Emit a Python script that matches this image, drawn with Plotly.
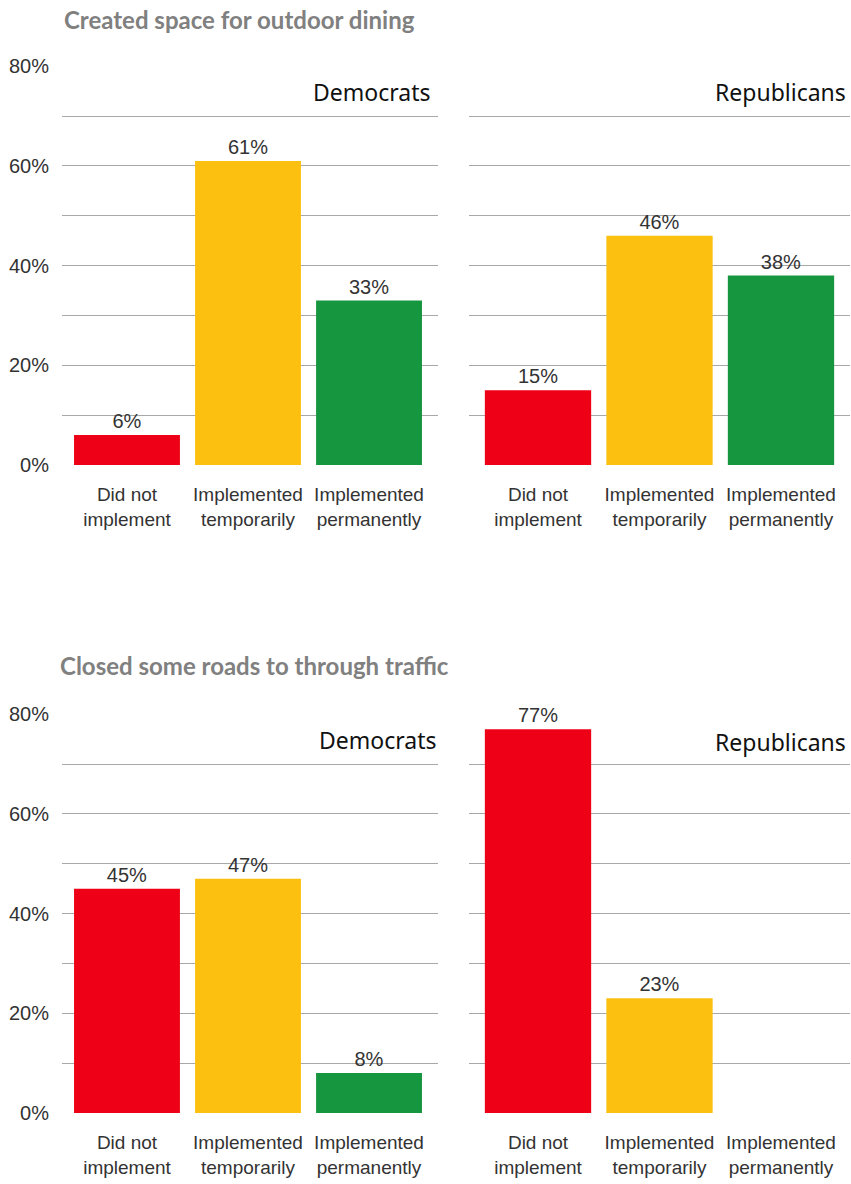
import plotly.graph_objects as go

categories = ["Did not<br>implement", "Implemented<br>temporarily", "Implemented<br>permanently"]
colors = ["#EE0016", "#FBC010", "#16963E"]

dining_dem = [6, 61, 33]
dining_rep = [15, 46, 38]
roads_dem = [45, 47, 8]
roads_rep = [77, 23, 0]

panel_titles = ["Created space for outdoor dining", "Closed some roads to through traffic"]
party_labels = ["Democrats", "Republicans"]

tick_vals = [0, 10, 20, 30, 40, 50, 60, 70, 80]
tick_text = ["0%", "", "20%", "", "40%", "", "60%", "", "80%"]

W, H = 851, 1184
ml = 62
mt = 66
mr = W - 850
mb = H - 1113
pw = W - ml - mr
ph = H - mt - mb

def fx(px):
    return (px - ml) / pw

def fy(py):
    return (H - mb - py) / ph

NARROW = "Liberation Sans Narrow, Arial Narrow, Liberation Sans, Arial, sans-serif"

fig = go.Figure()
domains_x = [[0, fx(438)], [fx(469), 1]]
domains_y = [[fy(465), 1], [0, fy(714)]]
x_ranges = [[-0.537, 2.570], [-0.568, 2.568]]
party_pos = [[(432, 92), (848, 92)], [(438, 740), (848, 742)]]
title_pos = [(62, 20), (58, 665)]

data = [[dining_dem, dining_rep], [roads_dem, roads_rep]]
idx = 0
for r in range(2):
    for c in range(2):
        idx += 1
        sfx = "" if idx == 1 else str(idx)
        vals = data[r][c]
        texts = [f"{v}%" if v > 0 else "" for v in vals]
        fig.add_trace(go.Bar(
            x=categories, y=vals, marker_color=colors, marker_line_width=0,
            width=0.875,
            text=texts, textposition="outside", cliponaxis=False,
            textfont=dict(family=NARROW, size=20, color="#333333"),
            xaxis="x" + sfx, yaxis="y" + sfx, showlegend=False, hoverinfo="skip",
        ))
        fig.layout["xaxis" + sfx] = dict(
            domain=domains_x[c], anchor="y" + sfx, showgrid=False, showline=False,
            range=x_ranges[c], ticks="", ticklabelstandoff=16,
            tickfont=dict(family=NARROW, size=19, color="#333333"),
            fixedrange=True,
        )
        fig.layout["yaxis" + sfx] = dict(
            domain=domains_y[r], anchor="x" + sfx, range=[0, 80.05],
            tickvals=tick_vals, ticktext=tick_text, showticklabels=(c == 0),
            gridcolor="#A8A8A8", gridwidth=1, zeroline=False, showline=False,
            ticks="", ticklabelstandoff=12,
            tickfont=dict(family=NARROW, size=20, color="#333333"),
            fixedrange=True,
        )
        px_, py_ = party_pos[r][c]
        fig.add_annotation(
            text=party_labels[c], xref="paper", yref="paper",
            x=fx(px_), y=fy(py_), xanchor="right", yanchor="middle",
            showarrow=False,
            font=dict(family="Noto Sans, sans-serif", size=23, color="#111111"),
        )

for r, title in enumerate(panel_titles):
    tx, ty = title_pos[r]
    fig.add_annotation(
        text="<b>" + title + "</b>", xref="paper", yref="paper",
        x=fx(tx), y=fy(ty), xanchor="left", yanchor="middle", showarrow=False,
        font=dict(family="Lato, sans-serif", size=24, color="#808080"),
    )

fig.update_layout(
    width=W, height=H, margin=dict(l=ml, r=mr, t=mt, b=mb),
    plot_bgcolor="white", paper_bgcolor="white",
)

fig.write_html(
    "out.html",
    config={"displayModeBar": False, "staticPlot": True},
    post_script="document.documentElement.style.margin='0';document.body.style.margin='0';"
                "document.body.style.overflow='hidden';",
)
